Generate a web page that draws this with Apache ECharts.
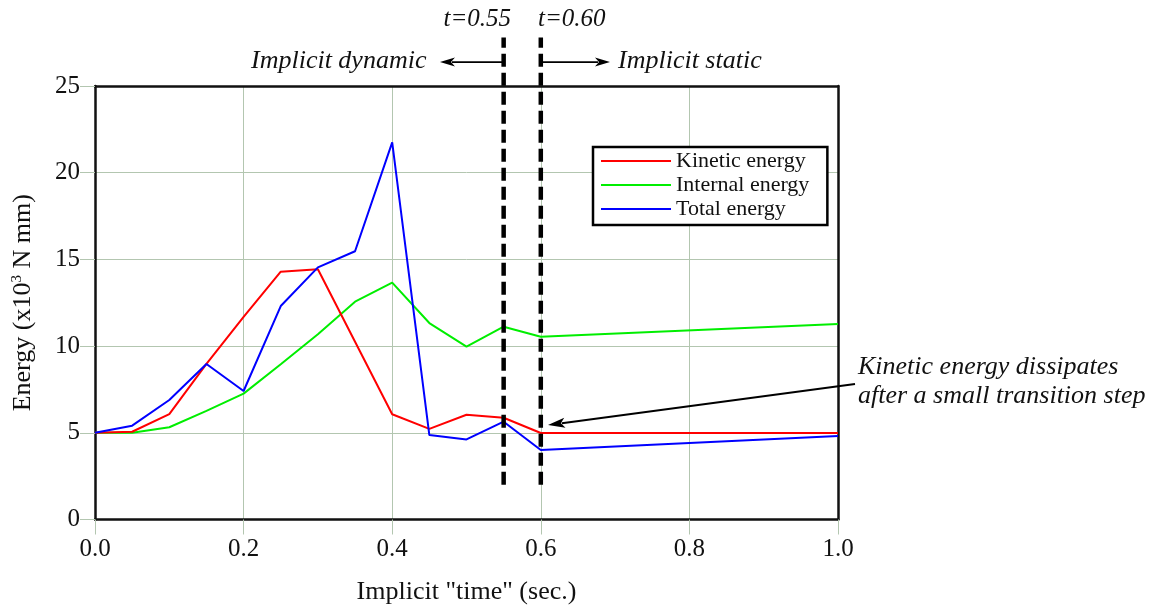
<!DOCTYPE html>
<html>
<head>
<meta charset="utf-8">
<script src="https://cdn.jsdelivr.net/npm/echarts@6/dist/echarts.min.js"></script>
<style>
html,body{margin:0;padding:0;background:#fff;}
#chart{width:1157px;height:611px;}
</style>
</head>
<body>
<div id="chart"></div>
<script>
// ---- data ----
const times = [0.0, 0.05, 0.10, 0.15, 0.20, 0.25, 0.30, 0.35, 0.40, 0.45, 0.50, 0.55, 0.60, 1.0];
const kinetic  = [5.0, 5.06, 6.08, 8.97, 11.68, 14.29, 14.43, 10.25, 6.07, 5.23, 6.04, 5.87, 4.99, 4.99];
const internal = [5.0, 5.0, 5.32, 6.26, 7.26, 8.95, 10.68, 12.56, 13.66, 11.33, 9.97, 11.12, 10.54, 11.27];
const total    = [5.0, 5.41, 6.89, 8.97, 7.41, 12.31, 14.54, 15.47, 21.75, 4.87, 4.62, 5.64, 4.01, 4.82];
const seriesNames = ['Kinetic energy', 'Internal energy', 'Total energy'];
const xTicks = [0.0, 0.2, 0.4, 0.6, 0.8, 1.0];
const yTicks = [0, 5, 10, 15, 20, 25];
const transitionTimes = [0.55, 0.60];
const dashBottom = 2.0, dashTop = 27.8;
// annotation arrows: [fromX, fromY, toX, toY]
const arrowDynamic = [0.548, 26.38, 0.4643, 26.38];
const arrowStatic  = [0.6015, 26.38, 0.6931, 26.38];
const arrowDissip  = [1.0229, 7.81, 0.6097, 5.45];

const serif = '"Liberation Serif", "DejaVu Serif", serif';
const gridColor = '#b3c6b0';

function pairs(ys){ return times.map((t,i)=>[t, ys[i]]); }

// rows: [x1, y1, x2, y2, kind]  kind 0 = dashed marker, 1 = thin arrow, 2 = annotation arrow
const annotRows = [
  ...transitionTimes.map(t => [t, dashBottom, t, dashTop, 0]),
  [...arrowDynamic, 1],
  [...arrowStatic, 1],
  [...arrowDissip, 2]
];

function renderAnnot(params, api){
  const p1 = api.coord([api.value(0), api.value(1)]);
  const p2 = api.coord([api.value(2), api.value(3)]);
  const kind = api.value(4);
  if (kind === 0) {
    return {type:'line', shape:{x1:p1[0], y1:p1[1], x2:p2[0], y2:p2[1]},
      style:{stroke:'#000', lineWidth:4.5, lineDash:[13,6]}};
  }
  const dx = p2[0]-p1[0], dy = p2[1]-p1[1];
  const len = Math.sqrt(dx*dx+dy*dy);
  const ux = dx/len, uy = dy/len;
  const headL = kind === 2 ? 17 : 15, headW = kind === 2 ? 5 : 4.5;
  const bx = p2[0]-ux*headL, by = p2[1]-uy*headL;
  const nx = -uy, ny = ux;
  return {type:'group', children:[
    {type:'line', shape:{x1:p1[0], y1:p1[1], x2:bx+ux*3, y2:by+uy*3},
      style:{stroke:'#000', lineWidth: kind === 2 ? 2 : 1.8}},
    {type:'polygon', shape:{points:[[p2[0],p2[1]],[bx+nx*headW, by+ny*headW],[bx+ux*4, by+uy*4],[bx-nx*headW, by-ny*headW]]},
      style:{fill:'#000'}}
  ]};
}

const chart = echarts.init(document.getElementById('chart'), null, {renderer:'canvas'});
const option = {
  backgroundColor:'#fff',
  animation:false,
  grid:{left:95, right:319, top:86, bottom:91.5, show:false},
  legend:{
    orient:'vertical', left:593, top:147,
    data:seriesNames,
    icon:'rect', itemWidth:70, itemHeight:2, itemGap:2,
    padding:[3,18,5,8],
    borderColor:'#000', borderWidth:2.5, backgroundColor:'#fff',
    textStyle:{fontFamily:serif, fontSize:22, lineHeight:22, color:'#111'}
  },
  xAxis:[{
    type:'value', min:0, max:1, interval:0.2,
    axisLine:{show:true, onZero:false, lineStyle:{color:'#111', width:2.5}},
    axisTick:{show:true, length:15, lineStyle:{color:gridColor}},
    splitLine:{show:true, lineStyle:{color:gridColor, width:1}},
    axisLabel:{margin:17, fontFamily:serif, fontSize:25, color:'#111', formatter:v=>v.toFixed(1)},
    name:'Implicit "time" (sec.)', nameLocation:'middle', nameGap:60,
    nameTextStyle:{fontFamily:serif, fontSize:26, color:'#111'}
  },{
    type:'value', min:0, max:1, position:'top',
    axisLine:{show:true, onZero:false, lineStyle:{color:'#111', width:2.5}},
    axisTick:{show:false}, axisLabel:{show:false}, splitLine:{show:false}
  }],
  yAxis:[{
    type:'value', min:0, max:25, interval:5,
    axisLine:{show:true, onZero:false, lineStyle:{color:'#111', width:2.5}},
    axisTick:{show:true, length:15, lineStyle:{color:gridColor}},
    splitLine:{show:true, lineStyle:{color:gridColor, width:1}},
    axisLabel:{margin:15, fontFamily:serif, fontSize:25, color:'#111'},
    name:'Energy (x10{sup|3} N mm)', nameLocation:'middle', nameGap:58, nameRotate:90,
    nameTextStyle:{fontFamily:serif, fontSize:26, color:'#111',
      rich:{sup:{fontFamily:serif, fontSize:15, verticalAlign:'top', padding:[0,0,12,0], color:'#111'}}}
  },{
    type:'value', min:0, max:25, position:'right',
    axisLine:{show:true, onZero:false, lineStyle:{color:'#111', width:2.5}},
    axisTick:{show:false}, axisLabel:{show:false}, splitLine:{show:false}
  }],
  series:[
    {name:seriesNames[1], type:'line', data:pairs(internal), showSymbol:false, symbol:'none',
     lineStyle:{color:'#00ee00', width:2}, itemStyle:{color:'#00ee00'}, z:2},
    {name:seriesNames[0], type:'line', data:pairs(kinetic), showSymbol:false, symbol:'none',
     lineStyle:{color:'#ff0000', width:2}, itemStyle:{color:'#ff0000'}, z:3},
    {name:seriesNames[2], type:'line', data:pairs(total), showSymbol:false, symbol:'none',
     lineStyle:{color:'#0000ff', width:2}, itemStyle:{color:'#0000ff'}, z:4},
    {name:'annot', type:'custom', data:annotRows, renderItem:renderAnnot, silent:true, z:10,
     clip:false, encode:{x:[0,2], y:[1,3]}}
  ],
  graphic:[
    {type:'text', x:511, y:19, style:{text:'t=0.55', font:'italic 25px '+serif, fill:'#111', align:'right', verticalAlign:'middle'}},
    {type:'text', x:538, y:19, style:{text:'t=0.60', font:'italic 25px '+serif, fill:'#111', align:'left', verticalAlign:'middle'}},
    {type:'text', x:251, y:61, style:{text:'Implicit dynamic', font:'italic 26px '+serif, fill:'#111', verticalAlign:'middle'}},
    {type:'text', x:618, y:61, style:{text:'Implicit static', font:'italic 26px '+serif, fill:'#111', verticalAlign:'middle'}},
    {type:'text', x:858, y:367, style:{text:'Kinetic energy dissipates', font:'italic 26px '+serif, fill:'#111', verticalAlign:'middle'}},
    {type:'text', x:858, y:396, style:{text:'after a small transition step', font:'italic 26px '+serif, fill:'#111', verticalAlign:'middle'}}
  ]
};
chart.setOption(option);
</script>
</body>
</html>
